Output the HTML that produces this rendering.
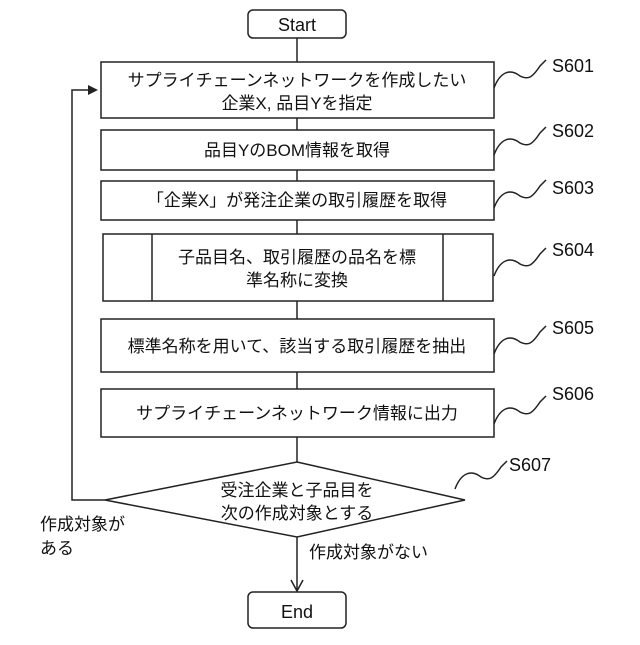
<!DOCTYPE html>
<html><head><meta charset="utf-8"><style>
body{margin:0;background:#fff}
svg text{font-family:"Liberation Sans","Noto Sans CJK JP",sans-serif;font-size:17px;fill:#111}
</style></head><body>
<svg width="640" height="640" viewBox="0 0 640 640" xmlns="http://www.w3.org/2000/svg">
<g stroke="#222" stroke-width="1.5" fill="none">
<rect x="248" y="10" width="98" height="28" rx="5"/>
<rect x="101" y="62" width="393" height="56"/>
<rect x="101" y="130" width="393" height="40"/>
<rect x="101" y="181" width="393" height="39"/>
<rect x="103" y="234" width="390" height="67"/>
<line x1="152" y1="234" x2="152" y2="301"/>
<line x1="443" y1="234" x2="443" y2="301"/>
<rect x="101" y="319" width="393" height="53"/>
<rect x="101" y="389" width="393" height="48"/>
<polygon points="297,462 465,500 297,537 105,500"/>
<rect x="248" y="592" width="98" height="36" rx="5"/>
<line x1="297" y1="38" x2="297" y2="62"/>
<line x1="297" y1="118" x2="297" y2="130"/>
<line x1="297" y1="170" x2="297" y2="181"/>
<line x1="297" y1="220" x2="297" y2="234"/>
<line x1="297" y1="301" x2="297" y2="319"/>
<line x1="297" y1="372" x2="297" y2="389"/>
<line x1="297" y1="437" x2="297" y2="462"/>
<line x1="297" y1="537" x2="297" y2="590"/>
<polyline points="291,580 297,591 303,580"/>
<polyline points="105,500 72,500 72,90 96,90"/>
<path d="M494,88 C500,72 510,68 520,76 C528,80 532,78 540,66 L546,60"/>
<path d="M494,155 C500,139 510,135 520,143 C528,147 532,145 540,133 L546,127"/>
<path d="M494,208 C500,192 510,188 520,196 C528,200 532,198 540,186 L546,180"/>
<path d="M494,276 C500,260 510,256 520,264 C528,268 532,266 540,254 L546,248"/>
<path d="M494,354 C500,338 510,334 520,342 C528,346 532,344 540,332 L546,326"/>
<path d="M494,424 C500,408 510,404 520,412 C528,416 532,414 540,402 L546,396"/>
<path d="M455,489 C461,473 471,469 481,477 C489,481 493,479 501,467 L507,461"/>
</g>
<polygon points="98,90 88,85 88,95" fill="#222"/>
<g text-anchor="middle">
<text x="297" y="31" style="font-size:18px">Start</text>
<text x="297" y="86">サプライチェーンネットワークを作成したい</text>
<text x="297" y="109">企業X, 品目Yを指定</text>
<text x="297" y="156">品目YのBOM情報を取得</text>
<text x="297" y="206">「企業X」が発注企業の取引履歴を取得</text>
<text x="297" y="263">子品目名、取引履歴の品名を標</text>
<text x="297" y="286">準名称に変換</text>
<text x="297" y="352">標準名称を用いて、該当する取引履歴を抽出</text>
<text x="297" y="419">サプライチェーンネットワーク情報に出力</text>
<text x="297" y="496">受注企業と子品目を</text>
<text x="297" y="519">次の作成対象とする</text>
<text x="297" y="618" style="font-size:18px">End</text>
</g>
<g>
<text x="552" y="72" style="font-size:18px">S601</text>
<text x="552" y="137" style="font-size:18px">S602</text>
<text x="552" y="194" style="font-size:18px">S603</text>
<text x="552" y="256" style="font-size:18px">S604</text>
<text x="552" y="334" style="font-size:18px">S605</text>
<text x="552" y="400" style="font-size:18px">S606</text>
<text x="509" y="471" style="font-size:18px">S607</text>
</g>
<text x="40" y="530">作成対象が</text>
<text x="40" y="554">ある</text>
<text x="309" y="558">作成対象がない</text>
</svg>
</body></html>
